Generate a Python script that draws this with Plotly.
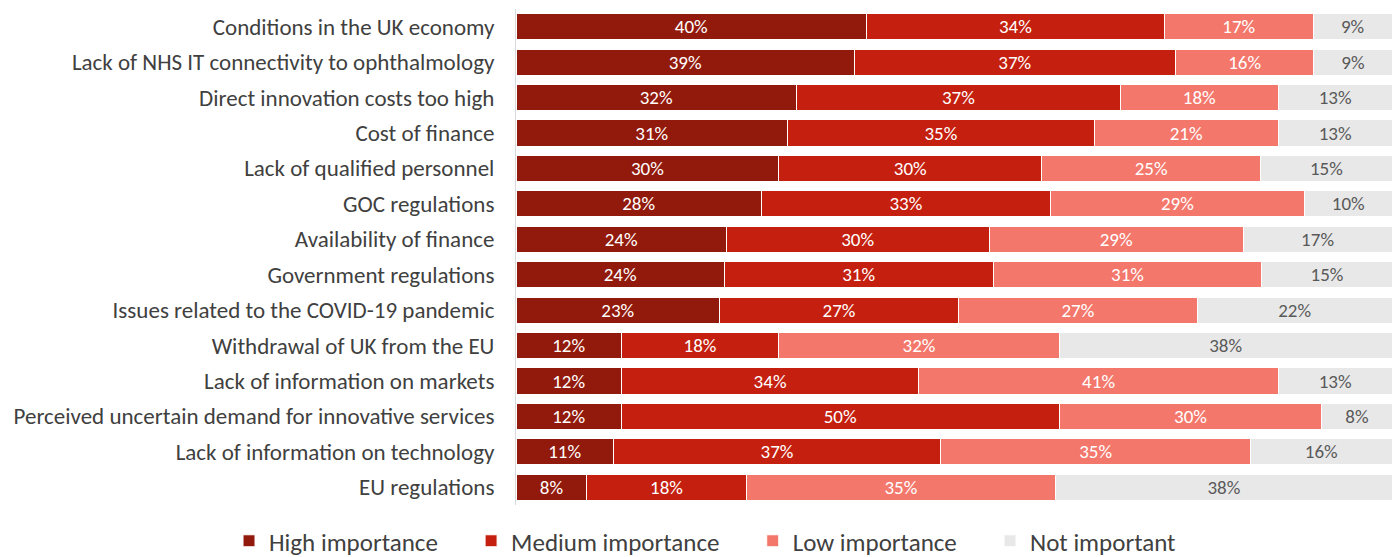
import plotly.graph_objects as go

categories = [
    "Conditions in the UK economy",
    "Lack of NHS IT connectivity to ophthalmology",
    "Direct innovation costs too high",
    "Cost of finance",
    "Lack of qualified personnel",
    "GOC regulations",
    "Availability of finance",
    "Government regulations",
    "Issues related to the COVID-19 pandemic",
    "Withdrawal of UK from the EU",
    "Lack of information on markets",
    "Perceived uncertain demand for innovative services",
    "Lack of information on technology",
    "EU regulations",
]

high_importance = [40, 39, 32, 31, 30, 28, 24, 24, 23, 12, 12, 12, 11, 8]
medium_importance = [34, 37, 37, 35, 30, 33, 30, 31, 27, 18, 34, 50, 37, 18]
low_importance = [17, 16, 18, 21, 25, 29, 29, 31, 27, 32, 41, 30, 35, 35]
not_important = [9, 9, 13, 13, 15, 10, 17, 15, 22, 38, 13, 8, 16, 38]

series = [
    ("High importance", high_importance, "#921A0C", "white"),
    ("Medium importance", medium_importance, "#C5200F", "white"),
    ("Low importance", low_importance, "#F4776C", "white"),
    ("Not important", not_important, "#E8E8E8", "#595959"),
]

FONT = "Carlito, Lato, sans-serif"
PAD = "\u00a0" * 5  # extra room between legend entries

fig = go.Figure()
for name, values, color, text_color in series:
    fig.add_trace(go.Bar(
        name=name + PAD,
        y=categories,
        x=values,
        orientation="h",
        marker=dict(color=color, line=dict(color="white", width=1)),
        text=[f"{v}%" for v in values],
        textposition="inside",
        insidetextanchor="middle",
        textangle=0,
        constraintext="none",
        textfont=dict(family=FONT, size=19, color=text_color),
        hovertemplate=name + ": %{text}<extra></extra>",
    ))

fig.update_layout(
    barmode="stack",
    barnorm="percent",
    bargap=0.26,
    width=1400,
    height=557,
    margin=dict(l=516, r=8, t=9, b=52, autoexpand=False),
    paper_bgcolor="white",
    plot_bgcolor="white",
    font=dict(family=FONT, color="#404040"),
    xaxis=dict(visible=False, range=[0, 100], fixedrange=True),
    yaxis=dict(
        autorange="reversed",
        showline=True,
        linecolor="#D9D9D9",
        linewidth=1,
        ticks="",
        ticklabelstandoff=16,
        tickfont=dict(family=FONT, size=23, color="#404040"),
        showgrid=False,
    ),
    legend=dict(
        orientation="h",
        xref="paper",
        yref="paper",
        x=-0.3276,
        xanchor="left",
        y=-0.0726,
        yanchor="middle",
        font=dict(family=FONT, size=25, color="#404040"),
        traceorder="normal",
    ),
    uniformtext=dict(mode=False),
)

fig.write_html("out.html")
